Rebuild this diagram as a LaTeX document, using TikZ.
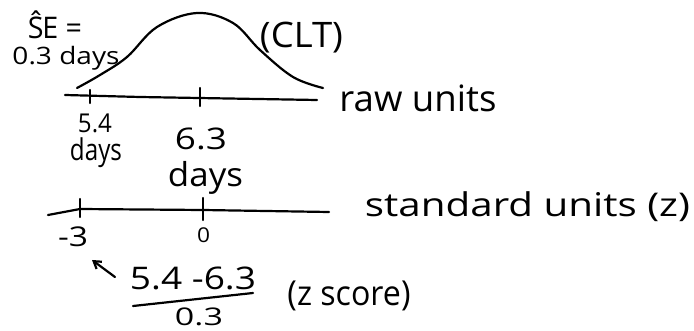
\documentclass[tikz,border=0pt]{standalone}
\usepackage{fontspec}
\setmainfont{Open Sans}
\usepackage{graphicx}
\usetikzlibrary{arrows.meta}
% width, total height, text
\newcommand\hwtext[3]{\resizebox*{#1pt}{#2pt}{#3}}
\tikzset{
  ink/.style={line width=2.2pt, line cap=round, line join=round, black},
  lbl/.style={inner sep=0pt, outer sep=0pt, anchor=center, text=black},
}
\begin{document}
\begin{tikzpicture}[x=1pt,y=-1pt]
\useasboundingbox[fill=white] (0,0) rectangle (694,331);
% bell curve
\draw[ink] plot[smooth, tension=0.6] coordinates {(77,88) (100,75) (127,57) (157,27) (197,13) (233,23) (260,50) (293,77) (323,88)};
% raw axis
\draw[ink] (65,95) -- (140,97) -- (317,100);
\draw[ink] (90,90) -- (90,103);
\draw[ink] (200,88) -- (200,106);
% standard axis
\draw[ink] (48,215) -- (80,209) -- (203,210) -- (329,212);
\draw[ink] (80,199) -- (80,217);
\draw[ink] (203,198) -- (203,220);
% labels
\node[lbl] (se) at (55,25) {\hwtext{54}{28}{Ŝ\kern-0.05emE =}};
\node[lbl] (sd) at (66,58) {\hwtext{107}{24}{0.3 days}};
\node[lbl] (clt) at (301.5,37.5) {\hwtext{83}{31}{(CLT)}};
\node[lbl] (raw) at (418,98.5) {\hwtext{157}{27}{raw units}};
\node[lbl] (a54) at (95,123) {\hwtext{34}{19}{5.4}};
\node[lbl] (d1) at (96,152.5) {\hwtext{52}{30}{days}};
\node[lbl] (a63) at (201,138.5) {\hwtext{52}{22}{6.3}};
\node[lbl] (d2) at (205.5,177.5) {\hwtext{75}{33}{days}};
\node[lbl] (std) at (527.5,207) {\hwtext{325}{30}{standard units (z)}};
\node[lbl] (m3) at (73,237) {\hwtext{30}{20}{-3}};
\node[lbl] (zero) at (203.5,235.5) {\hwtext{13}{15}{0}};
\node[lbl] (num) at (193,278.5) {\hwtext{126}{23}{5.4 -6.3}};
\node[lbl] (den) at (199,317) {\hwtext{48}{18}{0.3}};
\node[lbl] (zs) at (349,296) {\hwtext{123}{30}{(z score)}};
% fraction bar
\coordinate (fbl) at (133,306);
\coordinate (fbr) at (253,293);
\draw[ink] (fbl) -- (fbr);
% arrow
\coordinate (atail) at (115,277);
\coordinate (atip) at (92,260);
\draw[ink, -{Straight Barb[length=7pt,width=9pt]}] (atail) -- (atip);
\end{tikzpicture}
\end{document}
